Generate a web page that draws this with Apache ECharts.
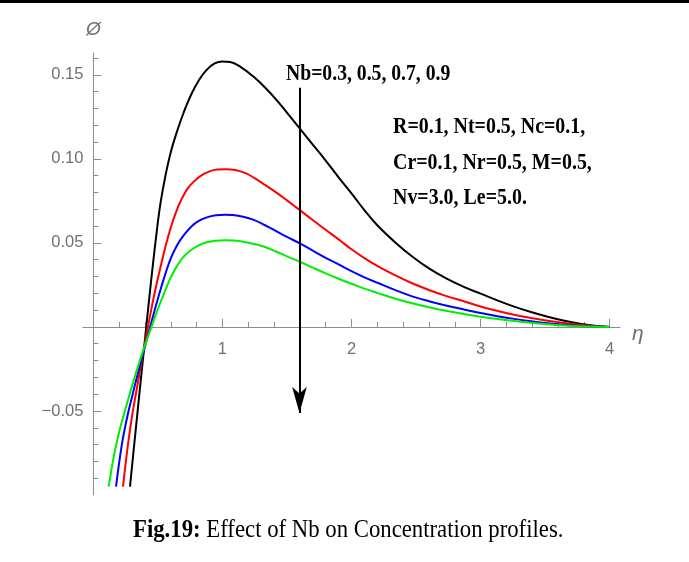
<!DOCTYPE html>
<html>
<head>
<meta charset="utf-8">
<script src="https://cdn.jsdelivr.net/npm/echarts@6/dist/echarts.min.js"></script>
<style>
  html, body { margin: 0; padding: 0; background: #fff; }
  #chart { width: 689px; height: 562px; }
</style>
</head>
<body>
<div id="chart"></div>
<script>
// curves, [eta, phi]
const nb03 = [
  [0.284,-0.095],[0.32,-0.0675],[0.355,-0.0412],[0.38,-0.0225],[0.395,-0.0113],[0.41,0],
  [0.43,0.0148],[0.46,0.036],[0.49,0.056],[0.52,0.0735],[0.56,0.0905],[0.6,0.104],
  [0.65,0.1167],[0.7,0.1276],[0.76,0.1386],[0.82,0.1471],[0.88,0.1531],[0.94,0.1568],
  [1.0,0.158],[1.06,0.1577],[1.14,0.1548],[1.24,0.149],[1.33,0.1425],[1.42,0.135],
  [1.5,0.1275],[1.6,0.118],[1.7,0.1085],[1.8,0.099],[1.9,0.089],[2.0,0.0795],
  [2.1,0.0695],[2.2,0.0605],[2.35,0.0495],[2.47,0.0419],[2.6,0.0348],[2.73,0.029],
  [2.87,0.0238],[3.0,0.0198],[3.13,0.0158],[3.26,0.0121],[3.39,0.0089],[3.52,0.0061],
  [3.65,0.0037],[3.78,0.0018],[3.9,0.0006],[4.0,0]
];
const nb05 = [
  [0.23,-0.095],[0.265,-0.072],[0.3,-0.053],[0.335,-0.0375],[0.365,-0.0245],[0.395,-0.0118],
  [0.423,0],[0.455,0.0128],[0.49,0.0255],[0.52,0.0355],[0.56,0.0482],[0.6,0.0592],
  [0.64,0.0682],[0.68,0.0755],[0.73,0.0823],[0.78,0.0866],[0.84,0.0903],[0.9,0.0926],
  [0.96,0.0937],[1.03,0.0939],[1.1,0.0934],[1.18,0.0915],[1.243,0.0888],[1.33,0.0845],
  [1.424,0.0796],[1.5,0.0753],[1.6,0.0695],[1.7,0.0636],[1.8,0.0578],[1.9,0.0521],
  [2.0,0.0462],[2.1,0.041],[2.21,0.0359],[2.34,0.0307],[2.47,0.026],[2.6,0.022],
  [2.73,0.0185],[2.87,0.0153],[3.0,0.0122],[3.13,0.0096],[3.26,0.0072],[3.39,0.0053],
  [3.52,0.0037],[3.65,0.0023],[3.78,0.0012],[3.9,0.0004],[4.0,0]
];
const nb07 = [
  [0.176,-0.095],[0.22,-0.0705],[0.26,-0.0545],[0.3,-0.0415],[0.34,-0.0292],[0.37,-0.0205],
  [0.395,-0.0132],[0.44,0],[0.47,0.0085],[0.51,0.0195],[0.56,0.032],[0.6,0.0408],
  [0.65,0.0488],[0.7,0.0545],[0.76,0.0598],[0.82,0.0632],[0.88,0.0652],[0.95,0.0664],
  [1.02,0.0668],[1.08,0.0666],[1.16,0.0656],[1.243,0.0637],[1.33,0.0605],[1.424,0.0567],
  [1.5,0.0536],[1.6,0.0497],[1.7,0.0454],[1.8,0.0411],[1.9,0.0372],[2.0,0.0332],
  [2.1,0.0295],[2.21,0.026],[2.34,0.0219],[2.47,0.0182],[2.6,0.0153],[2.73,0.0128],
  [2.87,0.0104],[3.0,0.0083],[3.13,0.0064],[3.26,0.0048],[3.39,0.0034],[3.52,0.0022],
  [3.65,0.0013],[3.78,0.0006],[3.9,0.0002],[4.0,0]
];
const nb09 = [
  [0.119,-0.095],[0.16,-0.0765],[0.2,-0.0625],[0.235,-0.0525],[0.27,-0.043],[0.31,-0.0325],
  [0.35,-0.0225],[0.395,-0.012],[0.45,0],[0.49,0.0085],[0.53,0.0165],[0.57,0.0242],
  [0.6,0.0295],[0.65,0.0365],[0.7,0.0418],[0.76,0.0459],[0.82,0.0487],[0.88,0.0504],
  [0.95,0.0513],[1.02,0.0516],[1.09,0.0514],[1.17,0.0506],[1.243,0.0494],[1.33,0.0476],
  [1.424,0.0446],[1.5,0.042],[1.6,0.0388],[1.7,0.0353],[1.8,0.0319],[1.9,0.0287],
  [2.0,0.0257],[2.1,0.0228],[2.21,0.02],[2.34,0.0168],[2.47,0.0141],[2.6,0.0117],
  [2.73,0.0096],[2.87,0.0077],[3.0,0.0061],[3.13,0.0047],[3.26,0.0035],[3.39,0.0025],
  [3.52,0.0016],[3.65,0.0009],[3.78,0.0004],[3.9,0.0001],[4.0,0]
];

const xMajor = [1, 2, 3, 4];
const xMinor = [0.2, 0.4, 0.6, 0.8, 1.2, 1.4, 1.6, 1.8, 2.2, 2.4, 2.6, 2.8, 3.2, 3.4, 3.6, 3.8];
const yMajor = [-0.05, 0.05, 0.1, 0.15];
const yMinor = [-0.09, -0.08, -0.07, -0.06, -0.04, -0.03, -0.02, -0.01, 0.01, 0.02, 0.03, 0.04,
                0.06, 0.07, 0.08, 0.09, 0.11, 0.12, 0.13, 0.14, 0.16];

// arrow "Nb increasing"
const arrowFrom = [1.597, 0.1423];
const arrowTo = [1.597, -0.0512];

const paramLines = ['R=0.1, Nt=0.5, Nc=0.1,', 'Cr=0.1, Nr=0.5, M=0.5,', 'Nv=3.0, Le=5.0.'];

const xMin = -0.08, xMax = 4.08, yMin = -0.1, yMax = 0.163;
const gridBox = {left: 83, top: 53, width: 537, height: 442};
// axes cross at the origin: shift them from the grid edges onto zero
const xAxisShift = -(0 - yMin) / (yMax - yMin) * gridBox.height;
const yAxisShift = -(0 - xMin) / (xMax - xMin) * gridBox.width;

const axisGray = '#8c8c8c';
const labelGray = '#707070';
const tickFont = '"Liberation Sans", Arial, sans-serif';
const serif = '"Liberation Serif", "Times New Roman", serif';

let chart = echarts.init(document.getElementById('chart'), null, {renderer: 'canvas'});

function curve(name, data, color) {
  return {
    name: name,
    type: 'line',
    data: data,
    smooth: 0.4,
    showSymbol: false,
    lineStyle: {color: color, width: 2},
    itemStyle: {color: color}
  };
}

let series = [
  curve('Nb=0.3', nb03, '#000000'),
  curve('Nb=0.5', nb05, '#ff0000'),
  curve('Nb=0.7', nb07, '#0000ff'),
  curve('Nb=0.9', nb09, '#00ee00')
];
series[0].markLine = {
  silent: true,
  animation: false,
  symbol: ['none', 'arrow'],
  lineStyle: {color: '#000', width: 2, type: 'solid'},
  label: {show: false},
  data: [[
    {coord: arrowFrom, symbol: 'none'},
    {coord: arrowTo, symbol: 'arrow', symbolSize: [11, 26]}
  ]]
};

let textRows = paramLines.map((t, i) => ({
  type: 'text', x: 393, y: 127.5 + i * 35.5, scaleX: 0.885,
  style: {text: t, font: 'bold 22.5px ' + serif, fill: '#000', verticalAlign: 'middle', align: 'left'}
}));

function xAxisOf(extra) {
  return Object.assign({
    type: 'value', min: xMin, max: xMax, position: 'bottom', offset: xAxisShift,
    splitLine: {show: false}
  }, extra);
}
function yAxisOf(extra) {
  return Object.assign({
    type: 'value', min: yMin, max: yMax, position: 'left', offset: yAxisShift,
    splitLine: {show: false}
  }, extra);
}

let option = {
  animation: false,
  backgroundColor: '#fff',
  grid: Object.assign({containLabel: false}, gridBox),
  xAxis: [xAxisOf({
    axisLine: {onZero: false, lineStyle: {color: axisGray, width: 1}},
    axisTick: {inside: true, length: 8, customValues: xMajor, lineStyle: {color: axisGray}},
    axisLabel: {customValues: xMajor, margin: 14, color: labelGray, fontFamily: tickFont, fontSize: 16.5},
    name: 'η', nameLocation: 'end', nameGap: 12,
    nameTextStyle: {color: labelGray, fontStyle: 'italic', fontFamily: tickFont, fontSize: 21,
                    verticalAlign: 'top', lineHeight: 14}
  }), xAxisOf({
    axisLine: {show: false, onZero: false},
    axisTick: {inside: true, length: 5, customValues: xMinor, lineStyle: {color: axisGray}},
    axisLabel: {show: false}
  })],
  yAxis: [yAxisOf({
    axisLine: {onZero: false, lineStyle: {color: axisGray, width: 1}},
    axisTick: {inside: true, length: 8, customValues: yMajor, lineStyle: {color: axisGray}},
    axisLabel: {
      customValues: yMajor, margin: 10, color: labelGray, fontFamily: tickFont, fontSize: 16.5,
      formatter: v => (v < 0 ? '\u2212' : '') + Math.abs(v).toFixed(2)
    },
    name: 'Ø', nameLocation: 'end', nameGap: 14,
    nameTextStyle: {color: labelGray, fontStyle: 'italic', fontFamily: tickFont, fontSize: 19}
  }), yAxisOf({
    axisLine: {show: false, onZero: false},
    axisTick: {inside: true, length: 5, customValues: yMinor, lineStyle: {color: axisGray}},
    axisLabel: {show: false}
  })],
  series: series,
  graphic: [
    {type: 'rect', shape: {x: 0, y: 0, width: 689, height: 3}, style: {fill: '#000'}},
    {
      type: 'text', x: 286, y: 73.3, scaleX: 0.82,
      style: {text: 'Nb=0.3, 0.5, 0.7, 0.9', font: 'bold 24px ' + serif, fill: '#000', verticalAlign: 'middle', align: 'left'}
    },
    ...textRows,
    {
      type: 'text', x: 133, y: 530.5, scaleX: 0.91,
      style: {
        text: '{b|Fig.19:} Effect of Nb on Concentration profiles.',
        font: '25px ' + serif, fill: '#000', verticalAlign: 'middle', align: 'left',
        rich: {b: {fontWeight: 'bold', fontFamily: serif, fontSize: 25, fill: '#000'}}
      }
    }
  ]
};

chart.setOption(option);
</script>
</body>
</html>
